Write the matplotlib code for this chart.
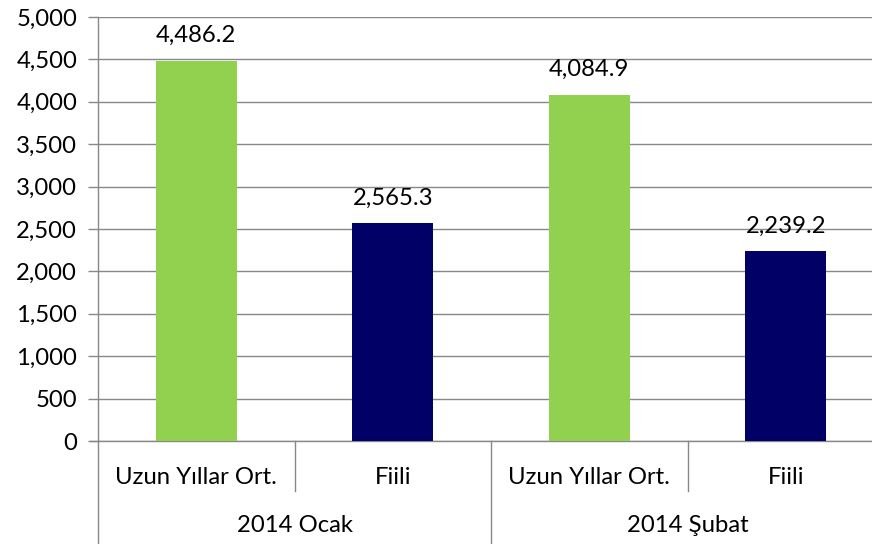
import matplotlib
matplotlib.use("Agg")
import matplotlib.pyplot as plt
from matplotlib.ticker import FuncFormatter

plt.rcParams['font.family'] = ['Lato', 'DejaVu Sans']

categories = ["Uzun Yıllar Ort.", "Fiili", "Uzun Yıllar Ort.", "Fiili"]
groups = ["2014 Ocak", "2014 Şubat"]
values = [4486.2, 2565.3, 4084.9, 2239.2]
colors = ["#92D050", "#000066", "#92D050", "#000066"]

FS = 17.2
W, H = 872, 544
fig = plt.figure(figsize=(W / 100, H / 100), dpi=100)
left, right, top, bottom = 98, 884, 17, 441
ax = fig.add_axes([left / W, 1 - bottom / H, (right - left) / W, (bottom - top) / H])

x = list(range(len(values)))
bars = ax.bar(x, values, width=0.41, color=colors, zorder=3)
ax.set_xlim(-0.5, len(values) - 0.5)
ax.set_ylim(0, 5000)
ax.set_yticks(range(0, 5001, 500))
ax.yaxis.set_major_formatter(FuncFormatter(lambda v, p: f"{v:,.0f}"))
ax.tick_params(axis='y', length=7, width=1, color='#888888', labelsize=FS, pad=8)
ax.tick_params(axis='x', length=0, labelbottom=False)
ax.grid(axis='y', color='#888888', linewidth=1, zorder=0)
for s in ['top', 'right']:
    ax.spines[s].set_visible(False)
ax.spines['left'].set_color('#888888')
ax.spines['bottom'].set_color('#888888')
ax.spines['left'].set_linewidth(1)
ax.spines['bottom'].set_linewidth(1)

for xi, v in zip(x, values):
    ax.annotate(f"{v:,.1f}", (xi, v), xytext=(0, 10.5), textcoords='offset points',
                ha='center', va='bottom', fontsize=FS)

tr = ax.get_xaxis_transform()
h = bottom - top
y_short = -(491 - bottom) / h
y_long = -(H - bottom) / h
ax.plot([-0.5 - 8 / 196.5, -0.5], [0, 0], transform=tr, color='#888888', lw=1, clip_on=False)
for i, lab in enumerate(categories):
    ax.text(i, -(477 - bottom) / h, lab, transform=tr, ha='center', va='center', fontsize=FS)
    if i % 2 == 1:
        ax.plot([i - 0.5, i - 0.5], [0, y_short], transform=tr, color='#888888', lw=1, clip_on=False)
for g, lab in enumerate(groups):
    ax.text(2 * g + 0.5, -(526 - bottom) / h, lab, transform=tr, ha='center', va='center', fontsize=FS)
    ax.plot([2 * g - 0.5, 2 * g - 0.5], [0, y_long], transform=tr, color='#888888', lw=1, clip_on=False)
ax.plot([3.5, 3.5], [0, y_long], transform=tr, color='#888888', lw=1, clip_on=False)

fig.savefig("out.png", dpi=100)
